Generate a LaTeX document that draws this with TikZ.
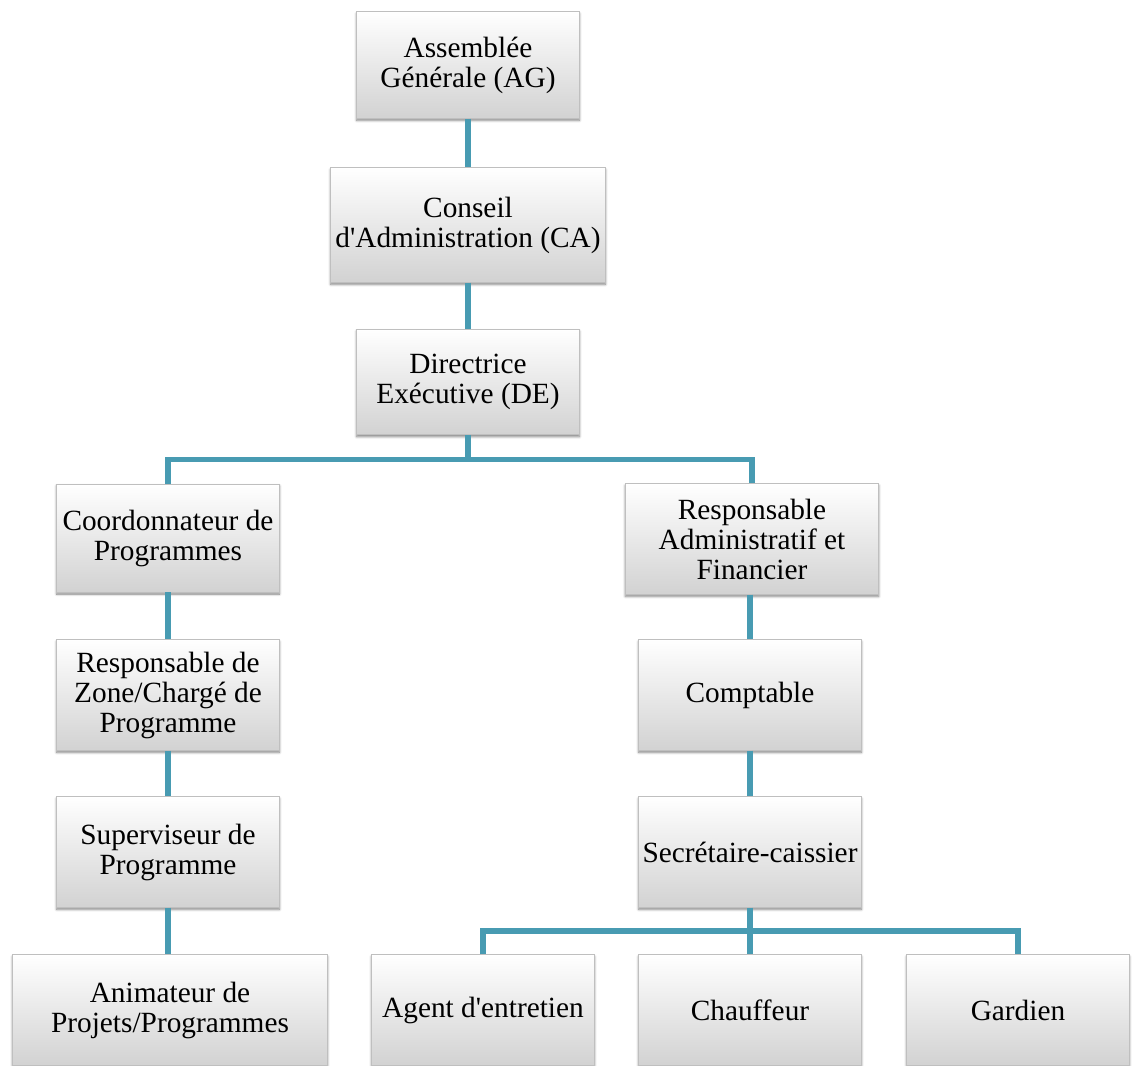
\documentclass[tikz,border=0pt]{standalone}
\usepackage{fontspec}
\setmainfont{Liberation Serif}
\usetikzlibrary{calc,shadows.blur}
\definecolor{linkcol}{RGB}{72,155,178}
\definecolor{boxbot}{RGB}{210,210,210}

\begin{document}
\begin{tikzpicture}[x=0.75pt,y=-0.75pt,
		box/.style={rectangle, minimum width=167pt, minimum height=83pt,
			top color=white, bottom color=boxbot, draw=gray!50, line width=0.4pt,
			align=center, font=\fontsize{22}{22.5}\selectfont, inner sep=2pt,
			blur shadow={shadow xshift=0pt, shadow yshift=-1.5pt, shadow blur steps=6, shadow opacity=50}},
		link/.style={draw=linkcol, line width=3.8pt}]
		\useasboundingbox (0,0) rectangle (1136,1066);
		% top of the chart
		\node[box, minimum height=80pt] (ag) at (468,65) {Assemblée\\Générale (AG)};
		\node[box, minimum width=206pt, minimum height=86pt] (ca) at (468,225) {Conseil\\d\textquotesingle Administration (CA)};
		\node[box, minimum height=79pt] (de) at (468,382) {Directrice\\Exécutive (DE)};
		% left branch
		\node[box, minimum height=81pt] (coord) at (168,538) {Coordonnateur de\\Programmes};
		\node[box] (rz) at (168,695) {Responsable de\\Zone/Chargé de\\Programme};
		\node[box] (superv) at (168,852) {Superviseur de\\Programme};
		\node[box, minimum width=236pt] (anim) at (170,1010) {Animateur de\\Projets/Programmes};
		% right branch
		\node[box, minimum width=190pt] (raf) at (752,539) {Responsable\\Administratif et\\Financier};
		\node[box] (compta) at (750,695) {Comptable};
		\node[box] (secr) at (750,852) {Secrétaire-caissier};
		\node[box] (agent) at (483,1010) {Agent d\textquotesingle entretien};
		\node[box] (chauff) at (750,1010) {Chauffeur};
		\node[box] (gard) at (1018,1010) {Gardien};
		% connectors
		\draw[link] (ag.south) -- (ca.north);
		\draw[link] (ca.south) -- (de.north);
		\draw[link] (de.south) -- ++(0,25) coordinate (deb);
		\draw[link] (coord.north) |- (deb) -| (raf.north);
		\draw[link] (coord.south) -- (rz.north);
		\draw[link] (rz.south) -- (superv.north);
		\draw[link] (superv.south) -- (superv.south |- anim.north);
		\draw[link] (compta.north |- raf.south) -- (compta.north);
		\draw[link] (compta.south) -- (secr.north);
		\draw[link] (secr.south) -- (chauff.north);
		\draw[link] (agent.north) |- ($(secr.south)!0.5!(chauff.north)$) -| (gard.north);
	\end{tikzpicture}
\end{document}
